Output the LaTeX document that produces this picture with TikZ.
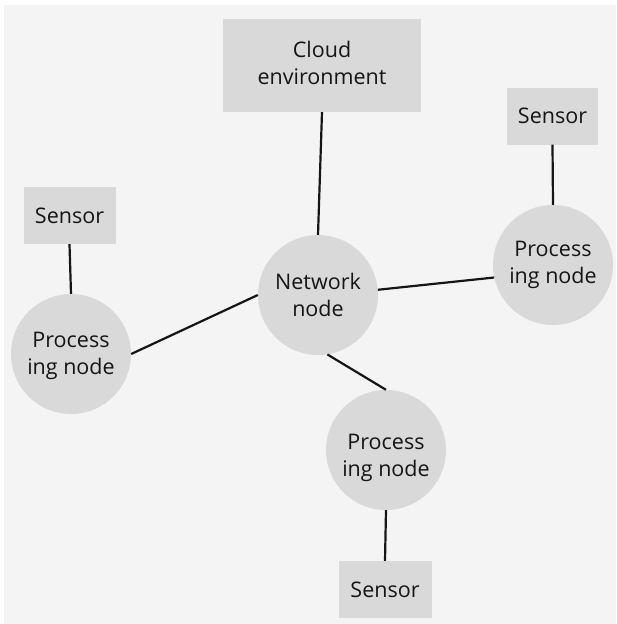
\documentclass[tikz,border=0pt]{standalone}
\usepackage{fontspec}
\setmainfont{Open Sans}
\definecolor{bgc}{HTML}{F4F4F4}
\definecolor{shapec}{HTML}{D9D9D9}
\definecolor{inkc}{HTML}{151515}
\begin{document}
\begin{tikzpicture}[x=1pt,y=-1pt,
  every node/.style={font=\fontsize{21.5}{27}\selectfont, text=inkc, align=center, inner sep=0pt},
  boxnode/.style={rectangle, fill=shapec, minimum width=#1, minimum height=57pt},
  circnode/.style={circle, fill=shapec, minimum size=120pt},
  link/.style={draw=inkc, line width=2.2pt}]
\useasboundingbox (0,0) rectangle (616,624);
\fill[white] (0,0) rectangle (616,624);
\fill[bgc] (4,5) rectangle (616,624);
\node[boxnode=198pt, minimum height=93pt] (cloud) at (322,65.5) {};
\node (cloudtext) at (322,62.5) {Cloud\\environment};
\node[boxnode=91pt] (sensR) at (552.5,116) {Sensor};
\node[boxnode=92pt] (sensL) at (69.5,215.5) {Sensor};
\node[boxnode=93pt] (sensB) at (385,589.5) {Sensor};
\node[circnode] (net) at (318,295) {Network\\node};
\node[circnode] (procL) at (71,354) {};
\node (procLtext) at (71,356) {Process\\ing node};
\node[circnode] (procR) at (553,265) {Process\\ing node};
\node[circnode] (procB) at (386,450) {};
\node (procBtext) at (386,458) {Process\\ing node};
\draw[link] (cloud.south) -- (net.north);
\draw[link] (sensL.south) -- (procL.north);
\draw[link] (procL.east) -- (net.west);
\draw[link] (net.5) -- (procR.192);
\draw[link] (net.-81) -- (procB.north);
\draw[link] (sensR.south) -- (procR.north);
\draw[link] (procB.south) -- (sensB.north);
\end{tikzpicture}
\end{document}
